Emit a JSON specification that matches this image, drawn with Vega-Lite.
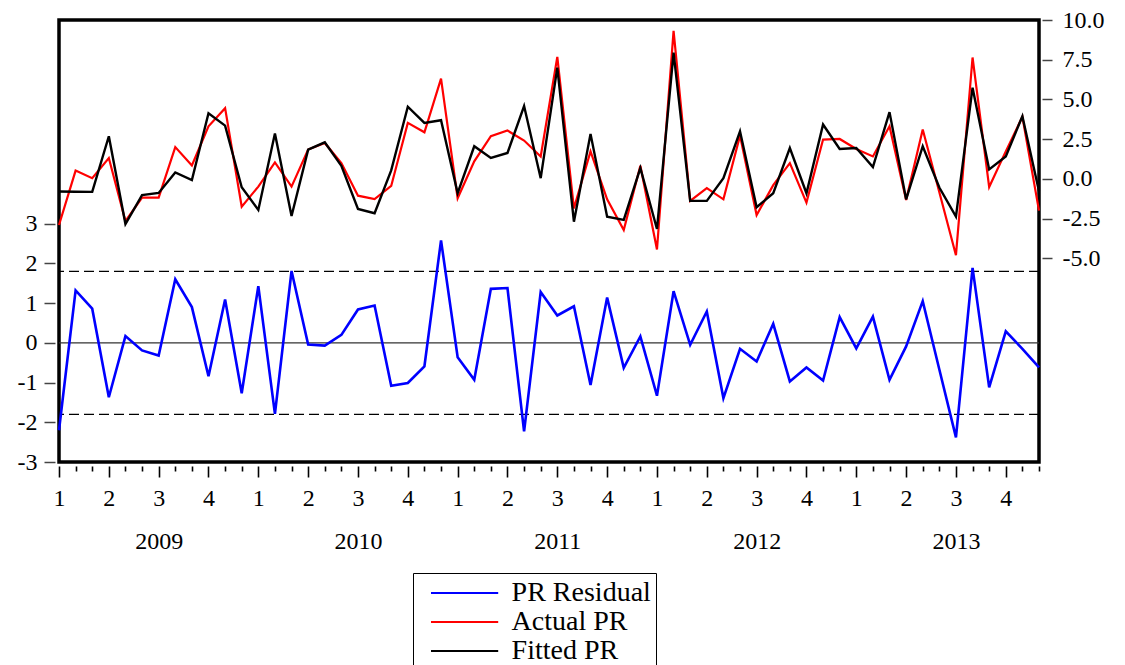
{
  "$schema": "https://vega.github.io/schema/vega-lite/v6.json",
  "width": 980,
  "height": 442,
  "autosize": {"type": "none"},
  "padding": {"left": 59, "top": 20, "right": 86, "bottom": 203},
  "background": "white",
  "datasets": {
    "pr": [
      {"t": 0, "resid": -2.2, "actual": -2.91, "fitted": -0.8},
      {"t": 1, "resid": 1.32, "actual": 0.52, "fitted": -0.81},
      {"t": 2, "resid": 0.86, "actual": 0.04, "fitted": -0.82},
      {"t": 3, "resid": -1.37, "actual": 1.31, "fitted": 2.68},
      {"t": 4, "resid": 0.17, "actual": -2.66, "fitted": -2.85},
      {"t": 5, "resid": -0.19, "actual": -1.18, "fitted": -1.03},
      {"t": 6, "resid": -0.32, "actual": -1.18, "fitted": -0.89},
      {"t": 7, "resid": 1.6, "actual": 2.0, "fitted": 0.4},
      {"t": 8, "resid": 0.9, "actual": 0.84, "fitted": -0.08},
      {"t": 9, "resid": -0.84, "actual": 3.31, "fitted": 4.13},
      {"t": 10, "resid": 1.09, "actual": 4.45, "fitted": 3.35},
      {"t": 11, "resid": -1.27, "actual": -1.75, "fitted": -0.53},
      {"t": 12, "resid": 1.43, "actual": -0.49, "fitted": -1.96},
      {"t": 13, "resid": -1.79, "actual": 1.03, "fitted": 2.85},
      {"t": 14, "resid": 1.81, "actual": -0.49, "fitted": -2.34},
      {"t": 15, "resid": -0.04, "actual": 1.84, "fitted": 1.84},
      {"t": 16, "resid": -0.07, "actual": 2.26, "fitted": 2.3},
      {"t": 17, "resid": 0.2, "actual": 0.99, "fitted": 0.82},
      {"t": 18, "resid": 0.84, "actual": -1.06, "fitted": -1.9},
      {"t": 19, "resid": 0.94, "actual": -1.27, "fitted": -2.17},
      {"t": 20, "resid": -1.08, "actual": -0.45, "fitted": 0.53},
      {"t": 21, "resid": -1.01, "actual": 3.52, "fitted": 4.54},
      {"t": 22, "resid": -0.59, "actual": 2.93, "fitted": 3.52},
      {"t": 23, "resid": 2.58, "actual": 6.31, "fitted": 3.69},
      {"t": 24, "resid": -0.36, "actual": -1.22, "fitted": -0.91},
      {"t": 25, "resid": -0.93, "actual": 1.1, "fitted": 2.05},
      {"t": 26, "resid": 1.36, "actual": 2.68, "fitted": 1.31},
      {"t": 27, "resid": 1.38, "actual": 3.04, "fitted": 1.63},
      {"t": 28, "resid": -2.23, "actual": 2.41, "fitted": 4.58},
      {"t": 29, "resid": 1.28, "actual": 1.41, "fitted": 0.04},
      {"t": 30, "resid": 0.69, "actual": 7.68, "fitted": 7.0},
      {"t": 31, "resid": 0.92, "actual": -1.86, "fitted": -2.7},
      {"t": 32, "resid": -1.06, "actual": 1.73, "fitted": 2.83},
      {"t": 33, "resid": 1.14, "actual": -1.29, "fitted": -2.38},
      {"t": 34, "resid": -0.63, "actual": -3.23, "fitted": -2.59},
      {"t": 35, "resid": 0.16, "actual": 0.82, "fitted": 0.68},
      {"t": 36, "resid": -1.33, "actual": -4.45, "fitted": -3.16},
      {"t": 37, "resid": 1.3, "actual": 9.32, "fitted": 7.95},
      {"t": 38, "resid": -0.05, "actual": -1.39, "fitted": -1.39},
      {"t": 39, "resid": 0.79, "actual": -0.59, "fitted": -1.39},
      {"t": 40, "resid": -1.39, "actual": -1.29, "fitted": 0.04},
      {"t": 41, "resid": -0.15, "actual": 2.72, "fitted": 2.99},
      {"t": 42, "resid": -0.47, "actual": -2.28, "fitted": -1.79},
      {"t": 43, "resid": 0.48, "actual": -0.4, "fitted": -0.91},
      {"t": 44, "resid": -0.97, "actual": 0.99, "fitted": 1.94},
      {"t": 45, "resid": -0.62, "actual": -1.5, "fitted": -0.91},
      {"t": 46, "resid": -0.95, "actual": 2.47, "fitted": 3.42},
      {"t": 47, "resid": 0.65, "actual": 2.51, "fitted": 1.88},
      {"t": 48, "resid": -0.14, "actual": 1.88, "fitted": 1.94},
      {"t": 49, "resid": 0.66, "actual": 1.41, "fitted": 0.74},
      {"t": 50, "resid": -0.93, "actual": 3.31, "fitted": 4.2},
      {"t": 51, "resid": -0.09, "actual": -1.33, "fitted": -1.29},
      {"t": 52, "resid": 1.05, "actual": 3.1, "fitted": 2.05},
      {"t": 53, "resid": -0.67, "actual": -0.85, "fitted": -0.55},
      {"t": 54, "resid": -2.38, "actual": -4.81, "fitted": -2.38},
      {"t": 55, "resid": 1.89, "actual": 7.64, "fitted": 5.74},
      {"t": 56, "resid": -1.12, "actual": -0.52, "fitted": 0.59},
      {"t": 57, "resid": 0.29, "actual": 1.73, "fitted": 1.41},
      {"t": 58, "resid": -0.15, "actual": 3.9, "fitted": 3.94},
      {"t": 59, "resid": -0.62, "actual": -2.0, "fitted": -0.78}
    ],
    "bands": [
      {"level": 0, "kind": "zero"},
      {"level": 1.8, "kind": "band"},
      {"level": -1.8, "kind": "band"}
    ]
  },
  "data": {"name": "pr"},
  "layer": [
    {
      "layer": [
        {
          "data": {"name": "bands"},
          "transform": [{"filter": "datum.kind == 'zero'"}],
          "mark": {"type": "rule", "color": "#333333", "strokeWidth": 1.2},
          "encoding": {"y": {"field": "level", "type": "quantitative", "title": null}}
        },
        {
          "data": {"name": "bands"},
          "transform": [{"filter": "datum.kind == 'band'"}],
          "mark": {"type": "rule", "color": "black", "strokeWidth": 1.3, "strokeDash": [10, 5]},
          "encoding": {"y": {"field": "level", "type": "quantitative", "title": null}}
        },
        {
          "mark": {"type": "line", "strokeWidth": 2.6},
          "encoding": {
            "x": {
              "field": "t",
              "type": "quantitative",
              "title": null,
              "scale": {"domain": [0, 59], "nice": false, "zero": false},
              "axis": {
                "orient": "bottom",
                "values": [0,1,2,3,4,5,6,7,8,9,10,11,12,13,14,15,16,17,18,19,20,21,22,23,24,25,26,27,28,29,30,31,32,33,34,35,36,37,38,39,40,41,42,43,44,45,46,47,48,49,50,51,52,53,54,55,56,57,58,59],
                "tickCount": 60,
                "labelExpr": "datum.value % 3 != 0 ? '' : (datum.value % 12 == 6 ? [format(floor((datum.value % 12) / 3) + 1, 'd'), format(2009 + floor(datum.value / 12), 'd')] : format(floor((datum.value % 12) / 3) + 1, 'd'))",
                "labelLineHeight": 43,
                "labelOverlap": false,
                "labelFlush": false,
                "labelBound": false,
                "labelPadding": 9,
                "offset": 4,
                "tickSize": {"condition": {"test": "datum.value % 3 == 0", "value": 11}, "value": 5},
                "tickWidth": 1.6
              }
            },
            "y": {
              "field": "resid",
              "type": "quantitative",
              "title": null,
              "scale": {"domain": [-3, 8.13], "nice": false, "zero": false},
              "axis": {
                "orient": "left",
                "values": [-3, -2, -1, 0, 1, 2, 3],
                "labelExpr": "datum.value < 0 ? '-' + format(abs(datum.value), 'd') : format(datum.value, 'd')",
                "offset": 4,
                "tickSize": 11,
                "tickWidth": 1.5,
                "tickColor": "#444444",
                "labelPadding": 7
              }
            },
            "color": {
              "datum": "PR Residual",
              "type": "nominal",
              "scale": {
                "domain": ["PR Residual", "Actual PR", "Fitted PR"],
                "range": ["#0000FF", "#FF0000", "#000000"]
              },
              "legend": {
                "orient": "none",
                "legendX": 354,
                "legendY": 553,
                "title": null,
                "strokeColor": "black",
                "padding": 5,
                "symbolType": "M-2.4,0H2.4",
                "symbolSize": 784,
                "symbolStrokeWidth": 2,
                "symbolOffset": 31.6,
                "labelOffset": 32,
                "labelFont": "Liberation Serif",
                "labelFontSize": 28,
                "labelColor": "black",
                "labelLimit": 0,
                "rowPadding": 0
              }
            }
          }
        }
      ]
    },
    {
      "layer": [
        {
          "mark": {"type": "line", "strokeWidth": 2.2},
          "encoding": {
            "x": {"field": "t", "type": "quantitative", "title": null},
            "y": {
              "field": "actual",
              "type": "quantitative",
              "title": null,
              "scale": {"domain": [-17.83, 10], "nice": false, "zero": false},
              "axis": {
                "orient": "right",
                "values": [-5, -2.5, 0, 2.5, 5, 7.5, 10],
                "labelExpr": "(datum.value < 0 ? '-' : '') + format(abs(datum.value), '.1f')",
                "offset": 3,
                "tickSize": 10,
                "tickWidth": 1.5,
                "tickColor": "#444444",
                "labelPadding": 10
              }
            },
            "color": {"datum": "Actual PR", "type": "nominal"}
          }
        },
        {
          "mark": {"type": "line", "strokeWidth": 2.4},
          "encoding": {
            "x": {"field": "t", "type": "quantitative", "title": null},
            "y": {"field": "fitted", "type": "quantitative", "title": null},
            "color": {"datum": "Fitted PR", "type": "nominal"}
          }
        }
      ]
    }
  ],
  "resolve": {"scale": {"y": "independent"}},
  "config": {
    "font": "Liberation Serif",
    "view": {"stroke": "black", "strokeWidth": 3.5},
    "axis": {
      "grid": false,
      "domain": false,
      "labelFont": "Liberation Serif",
      "labelFontSize": 24,
      "labelColor": "black",
      "tickColor": "black"
    }
  }
}
